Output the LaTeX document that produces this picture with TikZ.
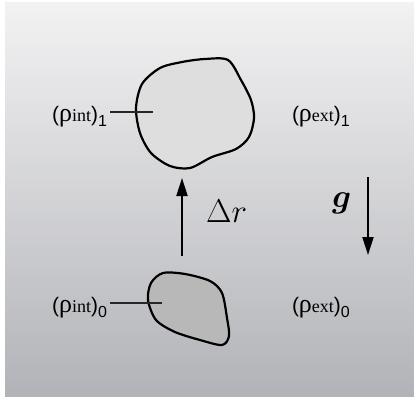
\documentclass[tikz,border=0pt]{standalone}
\usepackage{fix-cm}
\usepackage{bm}
\usepackage{fontspec}
\setmainfont{Liberation Serif}
\newfontfamily\labelsans{Liberation Sans}
\usetikzlibrary{arrows.meta}

\definecolor{panelTop}{RGB}{242,242,243}
\definecolor{panelMid}{RGB}{222,222,224}
\definecolor{panelBot}{RGB}{178,179,184}
\definecolor{blobLight}{RGB}{222,222,223}
\definecolor{blobDark}{RGB}{184,184,185}

\tikzset{
    blob/.style={line width=2.2pt, line join=round},
    leader/.style={line width=1.2pt, draw=black!85},
    motion/.style={line width=2pt, -{Triangle[length=18pt,width=11pt]}},
    densLabel/.style={inner sep=0pt, outer xsep=3pt, font=\labelsans\fontsize{21}{24}\selectfont},
    bigLabel/.style={inner sep=0pt, font=\fontsize{33}{36}\selectfont},
}

\newcommand{\dens}[2]{({\rmfamily\fontsize{26}{26}\selectfont ρ}\lower0.5pt\hbox{\rmfamily\fontsize{18}{18}\selectfont #1})\lower5pt\hbox{\fontsize{16}{16}\selectfont #2}}

\begin{document}
\begin{tikzpicture}[x=1pt, y=-1pt]
    \useasboundingbox (0,0) rectangle (414,396);

    % Background panel
    \shade[top color=panelTop, middle color=panelMid, bottom color=panelBot] (5,3) rectangle (414,396);

    % Parcel after the displacement
    \draw[blob, fill=blobLight] plot[smooth cycle] coordinates {
        (136,108) (142,84) (160,68) (182,62) (205,59) (228,60) (241,80) (251,100)
        (254,118) (249,137) (236,149) (212,157) (190,168) (170,166) (151,153) (140,133)};
    \coordinate (in1) at (153,112);

    % Parcel before the displacement
    \draw[blob, fill=blobDark] plot[smooth cycle] coordinates {
        (148,300) (151,283) (163,273) (185,274) (210,281) (222,293)
        (227,318) (229,336) (222,345) (200,340) (175,332) (156,320)};
    \coordinate (in0) at (162,303);

    % Densities
    \node[densLabel, anchor=base east] (int1) at (110,121) {\dens{int}{1}};
    \node[densLabel, anchor=base west] (ext1) at (289,121) {\dens{ext}{1}};
    \node[densLabel, anchor=base east] (int0) at (110,312) {\dens{int}{0}};
    \node[densLabel, anchor=base west] (ext0) at (289,312) {\dens{ext}{0}};
    \draw[leader] (int1.east |- in1) -- (in1);
    \draw[leader] (int0.east |- in0) -- (in0);

    % Displacement and gravity
    \coordinate (drTail) at (182,256);
    \coordinate (drHead) at (182,178);
    \coordinate (gTail) at (368,177);
    \coordinate (gHead) at (368,255);
    \draw[motion] (drTail) -- (drHead);
    \draw[motion] (gTail) -- (gHead);
    \node[bigLabel, anchor=base west] (drLabel) at (206,222) {$\Delta r$};
    \node[bigLabel, anchor=base west] (gLabel) at (332,207) {$\bm{g}$};
\end{tikzpicture}
\end{document}
